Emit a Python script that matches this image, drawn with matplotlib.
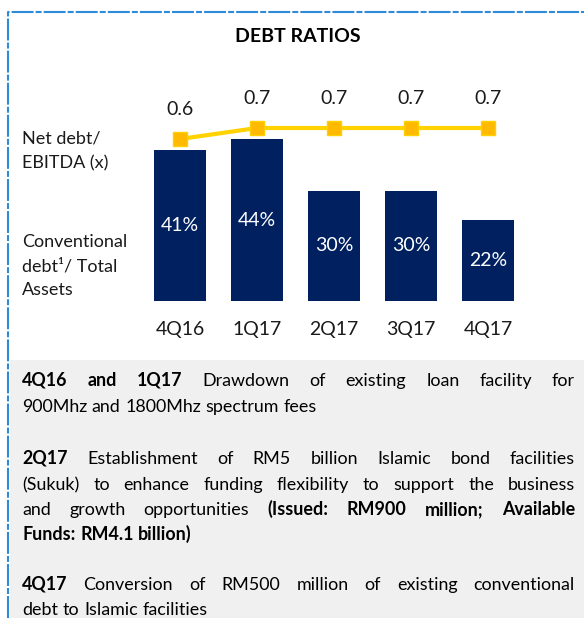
import numpy as np
import matplotlib
matplotlib.use("Agg")
import matplotlib.pyplot as plt
from matplotlib.patches import Rectangle
from matplotlib.lines import Line2D

plt.rcParams['font.family'] = ['Lato', 'DejaVu Sans']
plt.rcParams['lines.scale_dashes'] = False

# data
quarters = ['4Q16', '1Q17', '2Q17', '3Q17', '4Q17']
debt_to_assets = [41, 44, 30, 30, 22]          # %
net_debt_ebitda = [0.6, 0.7, 0.7, 0.7, 0.7]    # x

notes = [
    [([("4Q16 and 1Q17", True), ("Drawdown of existing loan facility for", False)], True),
     ([("900Mhz and 1800Mhz spectrum fees", False)], False)],
    [([("2Q17", True), ("Establishment of RM5 billion Islamic bond facilities", False)], True),
     ([("(Sukuk) to enhance funding flexibility to support the business", False)], True),
     ([("and growth opportunities", False), ("(Issued: RM900 million; Available", True)], True),
     ([("Funds: RM4.1 billion)", True)], False)],
    [([("4Q17", True), ("Conversion of RM500 million of existing conventional", False)], True),
     ([("debt to Islamic facilities", False)], False)],
]

W, H = 584, 618
NAVY = '#002060'
TXT = '#1a1a1a'

fig = plt.figure(figsize=(W / 100, H / 100), dpi=100)


def fx(x):
    return x / W


def fy(y):
    return 1 - y / H


# dashed frame and grey notes panel
fig.patches.append(Rectangle((fx(10), 0), 1 - fx(10), fy(360), transform=fig.transFigure,
                             facecolor='#f0f0f0', edgecolor='none', zorder=0))
frame = Line2D([fx(8), fx(8), 1.0], [0, fy(12), fy(12)], transform=fig.transFigure,
               color='#2e8bd6', lw=1.5, linestyle=(0, (15.8, 1.5, 4.3, 1.5)))
fig.lines.append(frame)

fig.text(fx(298), fy(36), 'DEBT RATIOS', fontsize=14, fontweight='bold',
         ha='center', va='center', color='black')

# bars
ax = fig.add_axes([fx(141.5), fy(301), 385 / W, 184 / H])
x = np.arange(len(quarters))
ax.bar(x, debt_to_assets, width=0.675, color=NAVY)
ax.set_xlim(-0.5, 4.5)
ax.set_ylim(0, 50)
ax.axis('off')
for i, v in enumerate(debt_to_assets):
    ax.text(i, v / 2, f'{v}%', color='white', fontsize=14, ha='center', va='center')
    ax.text(i, -29 / 184, quarters[i], transform=ax.get_xaxis_transform(),
            fontsize=14, ha='center', va='center', color=TXT)

# line on its own scale
ax2 = ax.twinx()
ax2.plot(x, net_debt_ebitda, color='#ffd200', lw=3, marker='s', markersize=10,
         markerfacecolor='#ffba00', markeredgecolor='#ffd000', zorder=3)
ax2.set_ylim(-0.873, 0.8)
ax2.axis('off')
for i, v in enumerate(net_debt_ebitda):
    ax2.annotate(f'{v:.1f}', (i, v), xytext=(0, 29), textcoords='offset pixels',
                 fontsize=14, ha='center', va='center', color=TXT)

# row labels
fig.text(fx(22), fy(151), 'Net debt/\nEBITDA (x)', fontsize=13, va='center',
         ha='left', color=TXT, linespacing=1.65)
fig.text(fx(22), fy(266), 'Conventional\ndebt¹/ Total\nAssets', fontsize=13, va='center',
         ha='left', color=TXT, linespacing=1.65)

# justified notes
renderer = fig.canvas.get_renderer()
X0, X1 = 22, 575
FS = 12.9
sp = fig.text(0, 0, 'a a', fontsize=FS)
nsp = fig.text(0, 0, 'aa', fontsize=FS)
space = sp.get_window_extent(renderer).width - nsp.get_window_extent(renderer).width
sp.remove()
nsp.remove()

baselines = [386, 412, 464, 490, 515, 540, 590, 615]
k = 0
for para in notes:
    for segments, justify in para:
        words = []
        for txt, bold in segments:
            for w in txt.split():
                words.append(fig.text(0, 0, w, fontsize=FS, color='black', va='baseline',
                                      fontweight='bold' if bold else 'normal'))
        widths = [t.get_window_extent(renderer).width for t in words]
        gap = space
        if justify and len(words) > 1:
            gap = max((X1 - X0 - sum(widths)) / (len(words) - 1), 0.7 * space)
        xpos = X0
        for t, wd in zip(words, widths):
            t.set_position((fx(xpos), fy(baselines[k])))
            xpos += wd + gap
        k += 1

fig.savefig('out.png', dpi=100)
